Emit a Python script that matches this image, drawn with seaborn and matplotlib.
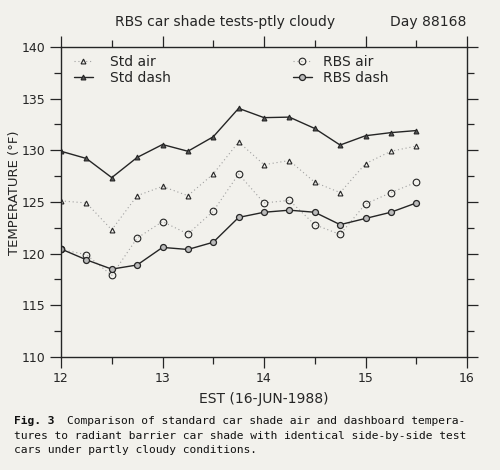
import matplotlib.pyplot as plt
import seaborn as sns
from matplotlib.ticker import MultipleLocator

# hours EST on 16-Jun-1988, sampled every 15 minutes
hours = [12.0, 12.25, 12.5, 12.75, 13.0, 13.25, 13.5, 13.75,
         14.0, 14.25, 14.5, 14.75, 15.0, 15.25, 15.5]

# temperatures in deg F
std_air = [125.1, 124.9, 122.3, 125.6, 126.5, 125.6, 127.7, 130.8,
           128.6, 129.0, 126.9, 125.9, 128.7, 129.9, 130.4]
std_dash = [129.9, 129.2, 127.35, 129.3, 130.55, 129.9, 131.3, 134.05,
            133.15, 133.2, 132.1, 130.5, 131.4, 131.7, 131.9]
rbs_air = [120.4, 119.9, 117.9, 121.5, 123.1, 121.9, 124.1, 127.7,
           124.9, 125.15, 122.8, 121.85, 124.8, 125.9, 126.9]
rbs_dash = [120.45, 119.4, 118.5, 118.9, 120.6, 120.4, 121.1, 123.5,
            124.0, 124.2, 124.0, 122.8, 123.4, 124.0, 124.9]

paper = '#f2f1ec'
ink = '#252525'

sns.set_style('ticks')
plt.rcParams['font.family'] = ['DejaVu Sans']

fig = plt.figure(figsize=(5.0, 4.7), dpi=100, facecolor=paper)
ax = fig.add_axes([0.122, 0.2404, 0.812, 0.66])
ax.set_facecolor(paper)

sns.lineplot(x=hours, y=std_air, ax=ax, color='#a0a0a0', lw=0.8, linestyle=(0, (1, 2.5)),
             marker='^', markersize=3.5, markerfacecolor='none', markeredgecolor=ink,
             markeredgewidth=0.8, label='Std air')
sns.lineplot(x=hours, y=std_dash, ax=ax, color=ink, lw=1.0, linestyle='-',
             marker='^', markersize=3.5, markerfacecolor='#555555', markeredgecolor=ink,
             markeredgewidth=0.8, label='Std dash')
sns.lineplot(x=hours, y=rbs_air, ax=ax, color='#a0a0a0', lw=0.8, linestyle=(0, (1, 2.5)),
             marker='o', markersize=4.8, markerfacecolor='none', markeredgecolor=ink,
             markeredgewidth=0.8, label='RBS air')
sns.lineplot(x=hours, y=rbs_dash, ax=ax, color=ink, lw=1.0, linestyle='-',
             marker='o', markersize=4.3, markerfacecolor='#bbbbbb', markeredgecolor=ink,
             markeredgewidth=0.9, label='RBS dash')

ax.set_xlim(12, 16)
ax.set_ylim(110, 140)
ax.xaxis.set_major_locator(MultipleLocator(1))
ax.xaxis.set_minor_locator(MultipleLocator(0.5))
ax.yaxis.set_major_locator(MultipleLocator(5))
ax.yaxis.set_minor_locator(MultipleLocator(2.5))
ax.tick_params(which='both', direction='out', top=True, right=True, color=ink,
               width=0.9, labelsize=9, labelcolor=ink)
ax.tick_params(which='major', length=8, pad=3)
ax.tick_params(which='minor', length=5)
for sp in ax.spines.values():
    sp.set_visible(True)
    sp.set_color(ink)
    sp.set_linewidth(1.0)

ax.set_xlabel('EST (16-JUN-1988)', fontsize=10, color=ink, labelpad=5)
ax.set_ylabel('')

# legend split in two columns like the original
handles, labels = ax.get_legend_handles_labels()
leg1 = ax.legend(handles[:2], labels[:2], loc='upper left', bbox_to_anchor=(0.0, 1.015),
                 frameon=False, fontsize=10, handlelength=1.4, handletextpad=1.2,
                 labelspacing=0.15, labelcolor=ink)
ax.add_artist(leg1)
ax.legend(handles[2:], labels[2:], loc='upper left', bbox_to_anchor=(0.54, 1.015),
          frameon=False, fontsize=10, handlelength=1.4, handletextpad=0.8,
          labelspacing=0.15, labelcolor=ink)

fig.text(15 / 500, 1 - 193 / 470, 'TEMPERATURE (°F)', rotation=90, ha='center',
         va='center', fontsize=9.5, color=ink)
fig.text(225 / 500, 1 - 22 / 470, 'RBS car shade tests-ptly cloudy', ha='center',
         va='center', fontsize=10, color=ink)
fig.text(466 / 500, 1 - 22 / 470, 'Day 88168', ha='right', va='center',
         fontsize=10, color=ink)

# caption under the chart
cap = dict(family='DejaVu Sans Mono', fontsize=8.1, color='#111111', va='center')
fig.text(14 / 500, 1 - 421 / 470, 'Fig. 3', fontweight='bold', **cap)
fig.text(67 / 500, 1 - 421 / 470,
         'Comparison of standard car shade air and dashboard tempera-', **cap)
fig.text(14 / 500, 1 - 436 / 470,
         'tures to radiant barrier car shade with identical side-by-side test', **cap)
fig.text(14 / 500, 1 - 450 / 470, 'cars under partly cloudy conditions.', **cap)

fig.savefig('out.png', dpi=100, facecolor=paper)
